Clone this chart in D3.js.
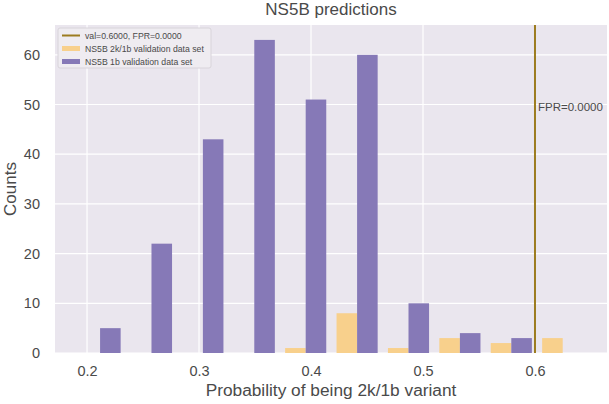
<!DOCTYPE html>
<html lang="en">
<head>
<meta charset="UTF-8">
<title>NS5B predictions</title>
<script src="https://cdn.jsdelivr.net/npm/d3@7"></script>
<style>
    html, body { margin: 0; padding: 0; background: #fff; }
    #chart { width: 609px; height: 404px; }
    text { font-family: "Liberation Sans", Arial, sans-serif; }
</style>
</head>
<body>
<div id="chart"></div>
<script>
    // histogram bins (left edges) and bin width
    const binStart = 0.1887
    const binWidth = 0.0459
    const binCounts1b = [5, 22, 43, 63, 51, 60, 10, 4, 3, 0]
    const binCounts2k = [0, 0, 0, 0, 1, 8, 1, 3, 2, 3]
    const xTicks = [0.2, 0.3, 0.4, 0.5, 0.6]
    const yTicks = [0, 10, 20, 30, 40, 50, 60]
    const thresholdVal = 0.6
    const thresholdLabel = 'FPR=0.0000'
    const legendLabels = ['val=0.6000, FPR=0.0000', 'NS5B 2k/1b validation data set', 'NS5B 1b validation data set']

    const width = 609, height = 404
    const margin = {top: 25, right: 2, bottom: 51, left: 55}
    const colors = {bg: '#EAE6EE', purple: '#8679B7', orange: '#F8D08C', line: '#9C7C20', text: '#4A4A4A'}

    const svg = d3.select('#chart').append('svg').attr('width', width).attr('height', height)

    const x = d3.scaleLinear().domain([0.1714, 0.6643]).range([margin.left, width - margin.right])
    const y = d3.scaleLinear().domain([0, 66]).range([height - margin.bottom, margin.top])

    // background
    svg.append('rect')
        .attr('x', margin.left).attr('y', margin.top)
        .attr('width', width - margin.right - margin.left)
        .attr('height', height - margin.bottom - margin.top)
        .attr('fill', colors.bg)

    // grid
    const grid = svg.append('g')
    grid.selectAll('line.gx').data(xTicks).enter().append('line')
        .attr('x1', d => x(d)).attr('x2', d => x(d))
        .attr('y1', margin.top).attr('y2', height - margin.bottom)
        .attr('stroke', '#fff').attr('stroke-width', 1.2)
    grid.selectAll('line.gy').data(yTicks).enter().append('line')
        .attr('y1', d => y(d)).attr('y2', d => y(d))
        .attr('x1', margin.left).attr('x2', width - margin.right)
        .attr('stroke', '#fff').attr('stroke-width', 1.2)

    // bars
    const bins = binCounts1b.map((v, i) => ({
        x0: binStart + i * binWidth,
        v1b: v,
        v2k: binCounts2k[i]
    }))
    const bars = svg.append('g')
    bars.selectAll('rect.o').data(bins.filter(d => d.v2k > 0)).enter().append('rect')
        .attr('x', d => x(d.x0 + 0.1 * binWidth))
        .attr('width', d => x(d.x0 + 0.5 * binWidth) - x(d.x0 + 0.1 * binWidth))
        .attr('y', d => y(d.v2k))
        .attr('height', d => y(0) - y(d.v2k))
        .attr('fill', colors.orange)
    bars.selectAll('rect.p').data(bins.filter(d => d.v1b > 0)).enter().append('rect')
        .attr('x', d => x(d.x0 + 0.5 * binWidth))
        .attr('width', d => x(d.x0 + 0.9 * binWidth) - x(d.x0 + 0.5 * binWidth))
        .attr('y', d => y(d.v1b))
        .attr('height', d => y(0) - y(d.v1b))
        .attr('fill', colors.purple)

    // threshold line
    svg.append('line')
        .attr('x1', x(thresholdVal)).attr('x2', x(thresholdVal))
        .attr('y1', margin.top).attr('y2', height - margin.bottom)
        .attr('stroke', colors.line).attr('stroke-width', 2)
    svg.append('text')
        .attr('x', x(thresholdVal) + 3).attr('y', y(48.6))
        .attr('font-size', 11.5).attr('fill', colors.text)
        .text(thresholdLabel)

    // axes
    const xAxis = svg.append('g')
        .attr('transform', `translate(0,${height - margin.bottom})`)
        .call(d3.axisBottom(x).tickValues(xTicks).tickSize(0).tickPadding(13).tickFormat(d3.format('.1f')))
    const yAxis = svg.append('g')
        .attr('transform', `translate(${margin.left},0)`)
        .call(d3.axisLeft(y).tickValues(yTicks).tickSize(0).tickPadding(15))
    ;[xAxis, yAxis].forEach(a => {
        a.select('.domain').remove()
        a.selectAll('text').attr('font-size', 14.5).attr('fill', colors.text)
            .attr('font-family', '"Liberation Sans", Arial, sans-serif')
    })

    // labels
    svg.append('text')
        .attr('x', (margin.left + width - margin.right) / 2).attr('y', 15)
        .attr('text-anchor', 'middle').attr('font-size', 17).attr('fill', colors.text)
        .text('NS5B predictions')
    svg.append('text')
        .attr('x', (margin.left + width - margin.right) / 2).attr('y', 396)
        .attr('text-anchor', 'middle').attr('font-size', 17.3).attr('fill', colors.text)
        .text('Probability of being 2k/1b variant')
    svg.append('text')
        .attr('transform', `translate(16,${(margin.top + height - margin.bottom) / 2}) rotate(-90)`)
        .attr('text-anchor', 'middle').attr('font-size', 17).attr('fill', colors.text)
        .text('Counts')

    // legend
    const legend = svg.append('g').attr('transform', 'translate(58,28)')
    legend.append('rect')
        .attr('width', 153).attr('height', 40).attr('rx', 2)
        .attr('fill', '#EFECF1').attr('stroke', '#D8D4DA')
    const swatches = [colors.line, colors.orange, colors.purple]
    legendLabels.forEach((lab, i) => {
        const g = legend.append('g').attr('transform', `translate(0,${7.5 + i * 13})`)
        if (i === 0) {
            g.append('line').attr('x1', 4).attr('x2', 22).attr('y1', 0).attr('y2', 0)
                .attr('stroke', swatches[i]).attr('stroke-width', 2)
        } else {
            g.append('rect').attr('x', 4).attr('y', -2.5).attr('width', 18).attr('height', 5)
                .attr('fill', swatches[i])
        }
        g.append('text').attr('x', 27).attr('y', 3.5)
            .attr('font-size', 8.7).attr('fill', colors.text)
            .text(lab)
    })
</script>
</body>
</html>
